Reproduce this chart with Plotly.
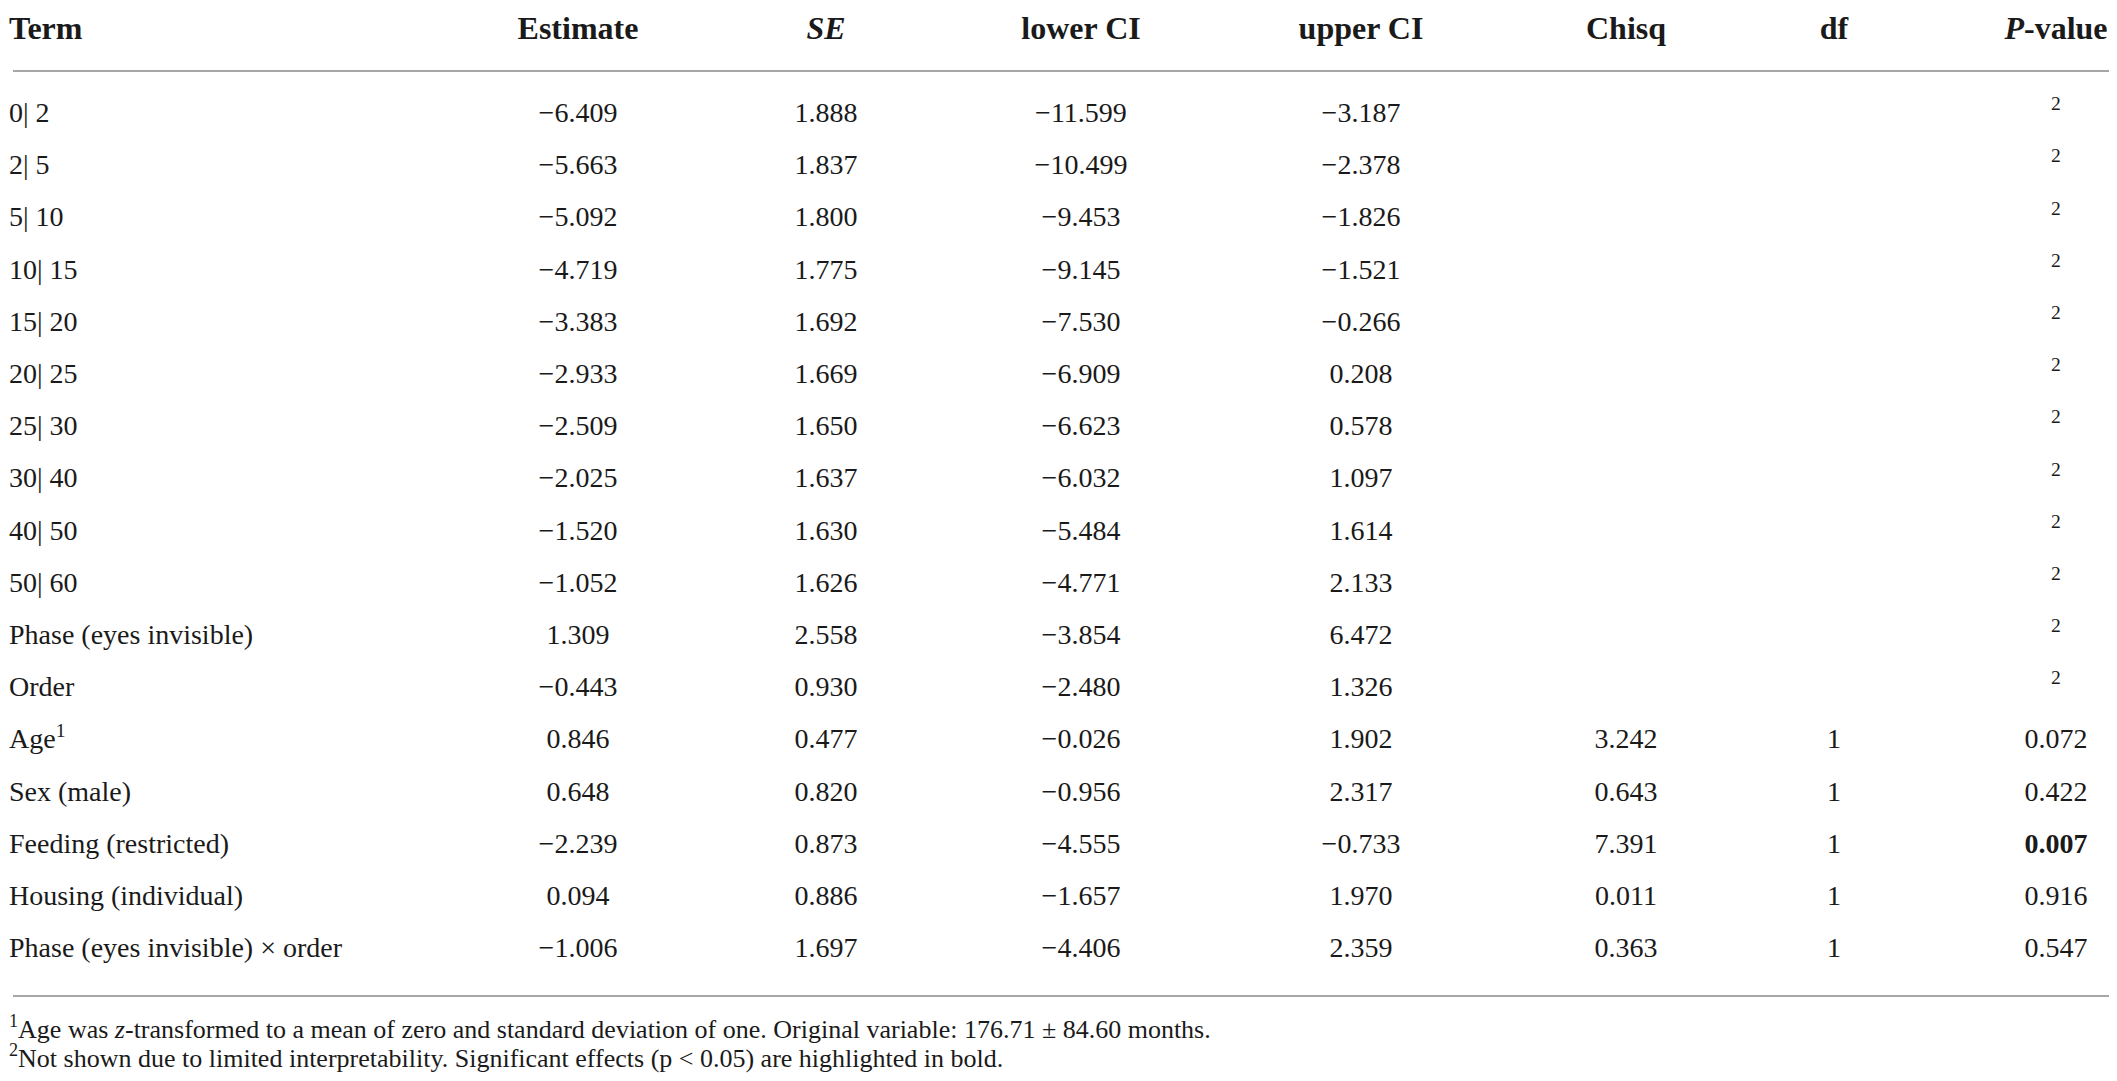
import plotly.graph_objects as go

# table values
terms = ["0| 2", "2| 5", "5| 10", "10| 15", "15| 20", "20| 25", "25| 30", "30| 40",
         "40| 50", "50| 60", "Phase (eyes invisible)", "Order", "Age<sup>1</sup>",
         "Sex (male)", "Feeding (restricted)", "Housing (individual)",
         "Phase (eyes invisible) × order"]
estimate = [-6.409, -5.663, -5.092, -4.719, -3.383, -2.933, -2.509, -2.025, -1.520,
            -1.052, 1.309, -0.443, 0.846, 0.648, -2.239, 0.094, -1.006]
se = [1.888, 1.837, 1.800, 1.775, 1.692, 1.669, 1.650, 1.637, 1.630, 1.626, 2.558,
      0.930, 0.477, 0.820, 0.873, 0.886, 1.697]
lower_ci = [-11.599, -10.499, -9.453, -9.145, -7.530, -6.909, -6.623, -6.032, -5.484,
            -4.771, -3.854, -2.480, -0.026, -0.956, -4.555, -1.657, -4.406]
upper_ci = [-3.187, -2.378, -1.826, -1.521, -0.266, 0.208, 0.578, 1.097, 1.614, 2.133,
            6.472, 1.326, 1.902, 2.317, -0.733, 1.970, 2.359]
chisq = [None] * 12 + [3.242, 0.643, 7.391, 0.011, 0.363]
df = [None] * 12 + [1, 1, 1, 1, 1]
p_value = [None] * 12 + [0.072, 0.422, 0.007, 0.916, 0.547]

headers = ["<b>Term</b>", "<b>Estimate</b>", "<b><i>SE</i></b>", "<b>lower CI</b>",
           "<b>upper CI</b>", "<b>Chisq</b>", "<b>df</b>", "<b><i>P</i>-value</b>"]
footnotes = [
    "<sup>1</sup>Age was <i>z</i>-transformed to a mean of zero and standard deviation of one. "
    "Original variable: 176.71 ± 84.60 months.",
    "<sup>2</sup>Not shown due to limited interpretability. Significant effects (p < 0.05) "
    "are highlighted in bold.",
]

W, H = 2117, 1081
FONT = "Liberation Serif"
INK = "#1a1a1a"
RULE = "#a6a6a6"

# layout of the table (pixels)
col_x = [1, 570, 818, 1073, 1353, 1618, 1826, 2048]
header_y = 23
row_y0, row_step = 107, 52.2
rule_x0 = 5
rule_y = [63, 988]
note_y = [1023, 1052]


def fmt(v):
    if v is None:
        return ""
    return f"{v:.3f}".replace("-", "\u2212")


def fmt_p(v):
    if v is None:
        return "<sup>2</sup>"
    s = f"{v:.3f}"
    return f"<b>{s}</b>" if v < 0.05 else s


columns = [
    terms,
    [fmt(v) for v in estimate],
    [fmt(v) for v in se],
    [fmt(v) for v in lower_ci],
    [fmt(v) for v in upper_ci],
    [fmt(v) for v in chisq],
    ["" if v is None else str(v) for v in df],
    [fmt_p(v) for v in p_value],
]

rows_y = [row_y0 + row_step * i for i in range(len(terms))]

fig = go.Figure()

for j, col in enumerate(columns):
    pos = "middle right" if j == 0 else "middle center"
    # header cell
    fig.add_trace(go.Scatter(
        x=[col_x[j]], y=[header_y], text=[headers[j]], mode="text",
        textposition=pos, textfont=dict(family=FONT, size=32, color=INK),
        hoverinfo="skip", showlegend=False, cliponaxis=False,
    ))
    # body cells
    fig.add_trace(go.Scatter(
        x=[col_x[j]] * len(col), y=rows_y, text=col, mode="text",
        textposition=pos, textfont=dict(family=FONT, size=28, color=INK),
        hoverinfo="skip", showlegend=False, cliponaxis=False,
    ))

# footnotes
fig.add_trace(go.Scatter(
    x=[col_x[0]] * len(footnotes), y=note_y, text=footnotes, mode="text",
    textposition="middle right", textfont=dict(family=FONT, size=26, color=INK),
    hoverinfo="skip", showlegend=False, cliponaxis=False,
))

for yy in rule_y:
    fig.add_shape(type="line", xref="x", yref="y", x0=rule_x0, x1=W, y0=yy, y1=yy,
                  line=dict(color=RULE, width=2))

fig.update_layout(
    width=W, height=H,
    margin=dict(l=0, r=0, t=0, b=0),
    paper_bgcolor="white", plot_bgcolor="white",
    xaxis=dict(range=[0, W], visible=False, fixedrange=True),
    yaxis=dict(range=[H, 0], visible=False, fixedrange=True),
)

fig.write_html("out.html")
